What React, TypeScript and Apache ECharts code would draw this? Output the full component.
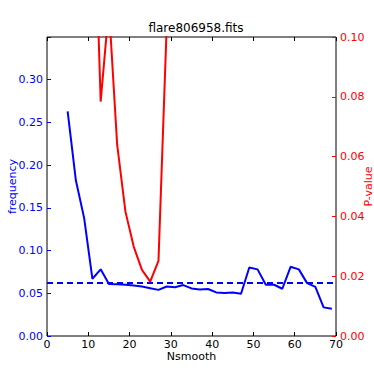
import React, { useEffect, useRef } from "react";
import * as echarts from "echarts";

const nsmooth = [5, 7, 9, 11, 13, 15, 17, 19, 21, 23, 25, 27, 29, 31, 33, 35, 37, 39, 41, 43, 45, 47, 49, 51, 53, 55, 57, 59, 61, 63, 65, 67, 69];
const frequency = [0.263, 0.182, 0.138, 0.067, 0.078, 0.061, 0.0605, 0.06, 0.059, 0.058, 0.056, 0.054, 0.058, 0.057, 0.0596, 0.0557, 0.0545, 0.055, 0.051, 0.0503, 0.051, 0.0495, 0.0802, 0.078, 0.06, 0.06, 0.0553, 0.081, 0.078, 0.0619, 0.0576, 0.0335, 0.032];
const pvalueX = [11, 13, 15, 17, 19, 21, 23, 25, 27, 29];
const pvalue = [0.166, 0.0784, 0.11, 0.0639, 0.0416, 0.0299, 0.0221, 0.0182, 0.0251, 0.104];
const thresholdX = [0, 70];
const threshold = [0.062, 0.062];
const xTicks = [0, 10, 20, 30, 40, 50, 60, 70];

const FONT = "DejaVu Sans";

export default function App() {
  const ref = useRef<HTMLDivElement>(null);
  useEffect(() => {
    if (!ref.current) return;
    const chart = echarts.init(ref.current, undefined, { renderer: "svg" });
    chart.setOption({
      animation: false,
      backgroundColor: "#ffffff",
      title: {
        text: "flare806958.fits",
        left: 191,
        textAlign: "center",
        top: 17,
        textStyle: { fontFamily: FONT, fontSize: 12, fontWeight: "normal", color: "#000" },
      },
      grid: {
        left: 47, top: 37, right: 38, bottom: 38,
        outerBoundsMode: "none",
        containLabel: false,
        show: true, borderColor: "#000", borderWidth: 1, backgroundColor: "transparent",
      },
      xAxis: [
        {
          type: "value",
          min: xTicks[0],
          max: xTicks[xTicks.length - 1],
          interval: 10,
          name: "Nsmooth",
          nameLocation: "middle",
          nameGap: 15,
          nameMoveOverlap: false,
          nameTextStyle: { fontFamily: FONT, fontSize: 11, lineHeight: 11, color: "#000" },
          axisLine: { show: false, onZero: false },
          axisTick: { show: true, inside: true, length: 4, lineStyle: { color: "#000" } },
          axisLabel: { fontFamily: FONT, fontSize: 11, lineHeight: 11, color: "#000", margin: 3 },
          splitLine: { show: false },
        },
        {
          type: "value",
          position: "top",
          min: 0,
          max: 70,
          interval: 10,
          axisLine: { show: false, onZero: false },
          axisTick: { show: true, inside: true, length: 4, lineStyle: { color: "#000" } },
          axisLabel: { show: false },
          splitLine: { show: false },
        },
      ],
      yAxis: [
        {
          type: "value",
          position: "left",
          min: 0,
          max: 0.35,
          interval: 0.05,
          name: "frequency",
          nameLocation: "middle",
          nameRotate: 90,
          nameGap: 29,
          nameMoveOverlap: false,
          nameTextStyle: { fontFamily: FONT, fontSize: 11, color: "#0000ff" },
          axisLine: { show: false, onZero: false },
          axisTick: { show: true, inside: true, length: 4, lineStyle: { color: "#0000ff" } },
          axisLabel: {
            fontFamily: FONT,
            fontSize: 11,
            color: "#0000ff",
            margin: 4,
            formatter: (v: number) => (v > 0.34 ? "" : v.toFixed(2)),
          },
          splitLine: { show: false },
        },
        {
          type: "value",
          position: "right",
          min: 0,
          max: 0.1,
          interval: 0.02,
          name: "P-value",
          nameLocation: "middle",
          nameRotate: 90,
          nameGap: 27,
          nameMoveOverlap: false,
          nameTextStyle: { fontFamily: FONT, fontSize: 11, color: "#ff0000" },
          axisLine: { show: false, onZero: false },
          axisTick: { show: true, inside: true, length: 4, lineStyle: { color: "#ff0000" } },
          axisLabel: {
            fontFamily: FONT,
            fontSize: 11,
            color: "#ff0000",
            margin: 4,
            formatter: (v: number) => v.toFixed(2),
          },
          splitLine: { show: false },
        },
      ],
      series: [
        {
          type: "line",
          xAxisIndex: 0,
          yAxisIndex: 0,
          data: nsmooth.map((x, i) => [x, frequency[i]]),
          symbol: "none",
          lineStyle: { color: "#0000ff", width: 2 },
          clip: true,
        },
        {
          type: "line",
          xAxisIndex: 0,
          yAxisIndex: 0,
          data: thresholdX.map((x, i) => [x, threshold[i]]),
          symbol: "none",
          lineStyle: { color: "#0000ff", width: 2, type: [6, 4] },
          clip: true,
        },
        {
          type: "line",
          xAxisIndex: 0,
          yAxisIndex: 1,
          data: pvalueX.map((x, i) => [x, pvalue[i]]),
          symbol: "none",
          lineStyle: { color: "#ff0000", width: 2 },
          clip: true,
        },
      ],
    });
    return () => chart.dispose();
  }, []);
  return <div ref={ref} style={{ width: 374, height: 374, position: "absolute", left: 0, top: 0 }} />;
}
